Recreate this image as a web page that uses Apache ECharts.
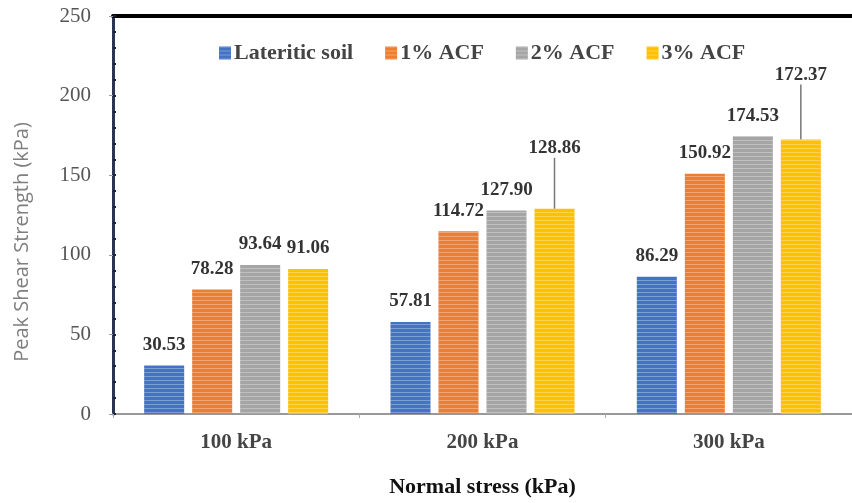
<!DOCTYPE html>
<html><head><meta charset="utf-8">
<script src="https://cdn.jsdelivr.net/npm/echarts@6/dist/echarts.min.js"></script>
<style>html,body{margin:0;padding:0;background:#fff}#c{width:852px;height:503px}</style>
</head><body><div id="c"></div>
<script>
const categories = ['100 kPa', '200 kPa', '300 kPa'];
const seriesNames = ['Lateritic soil', '1% ACF', '2% ACF', '3% ACF'];
const lateriticSoil = [30.53, 57.81, 86.29];
const acf1 = [78.28, 114.72, 150.92];
const acf2 = [93.64, 127.90, 174.53];
const acf3 = [91.06, 128.86, 172.37];
const colors = ['#4472C4', '#ED7D31', '#A5A5A5', '#FFC000'];
const yTicks = [0, 50, 100, 150, 200, 250];

const serif = '"Liberation Serif", "Times New Roman", serif';
const decal = {symbol: 'rect', symbolSize: 1, dashArrayX: [[1, 0]], dashArrayY: [1, 3], color: 'rgba(255,255,255,0.3)', rotation: 0};
const liftedLabels = {3: {1: -40, 2: -44}};

function mk(name, data, idx) {
  const lifts = liftedLabels[idx] || {};
  return {
    name: name, type: 'bar', xAxisIndex: 0, yAxisIndex: 0,
    data: data.map((v, i) => ({
      value: v,
      labelLine: {show: !!lifts[i], lineStyle: {color: '#777', width: 1.5}}
    })),
    barWidth: 40, barGap: '20%',
    itemStyle: {color: colors[idx], decal: decal},
    label: {show: true, position: 'top', distance: 11, fontFamily: serif, fontWeight: 'bold', fontSize: 19, color: '#333',
      formatter: p => p.value.toFixed(2)},
    labelLayout: function (p) { const dy = lifts[p.dataIndex]; return dy ? {dy: dy} : {}; }
  };
}

const chart = echarts.init(document.getElementById('c'), null, {renderer: 'canvas'});
chart.setOption({
  animation: false,
  backgroundColor: '#fff',
  grid: {left: 113, top: 16, width: 744, bottom: 87, containLabel: false},
  legend: {
    data: seriesNames, top: 37, left: 214, itemWidth: 12, itemHeight: 13, itemGap: 32,
    icon: 'rect',
    textStyle: {fontFamily: serif, fontWeight: 'bold', fontSize: 22, color: '#444', padding: [0, 0, 0, -2]}
  },
  xAxis: [{
    type: 'category', data: categories, position: 'bottom',
    axisLine: {onZero: false, lineStyle: {color: '#999', width: 2}},
    axisTick: {show: true, length: 4, lineStyle: {color: '#aaa'}},
    axisLabel: {fontFamily: serif, fontWeight: 'bold', fontSize: 21, color: '#444', margin: 18},
    name: 'Normal stress (kPa)', nameLocation: 'middle', nameGap: 62,
    nameTextStyle: {fontFamily: serif, fontWeight: 'bold', fontSize: 22, color: '#111'}
  }, {
    type: 'category', data: categories, position: 'top',
    axisLine: {show: true, onZero: false, lineStyle: {color: '#000', width: 4}},
    axisTick: {show: false}, axisLabel: {show: false}
  }],
  yAxis: [{
    type: 'value', min: yTicks[0], max: yTicks[yTicks.length - 1], interval: 50,
    axisLine: {show: true, lineStyle: {color: '#2b3553', width: 3}},
    axisTick: {show: true, length: 4, lineStyle: {color: '#999'}},
    axisLabel: {fontFamily: serif, fontSize: 21, color: '#555', margin: 22},
    splitLine: {show: false},
    name: 'Peak Shear Strength (kPa)', nameLocation: 'middle', nameGap: 81,
    nameTextStyle: {fontFamily: '"Open Sans", "Noto Sans", sans-serif', fontSize: 20, color: '#7f7f7f', padding: [0, 54, 0, 0]}
  }, {
    type: 'value', min: 0, max: 250, interval: 10, position: 'left',
    axisLine: {show: false},
    axisTick: {show: true, inside: true, length: 3, lineStyle: {color: '#1a2040', width: 2}},
    axisLabel: {show: false}, splitLine: {show: false}
  }],
  series: [mk(seriesNames[0], lateriticSoil, 0), mk(seriesNames[1], acf1, 1), mk(seriesNames[2], acf2, 2), mk(seriesNames[3], acf3, 3)]
});
</script></body></html>
